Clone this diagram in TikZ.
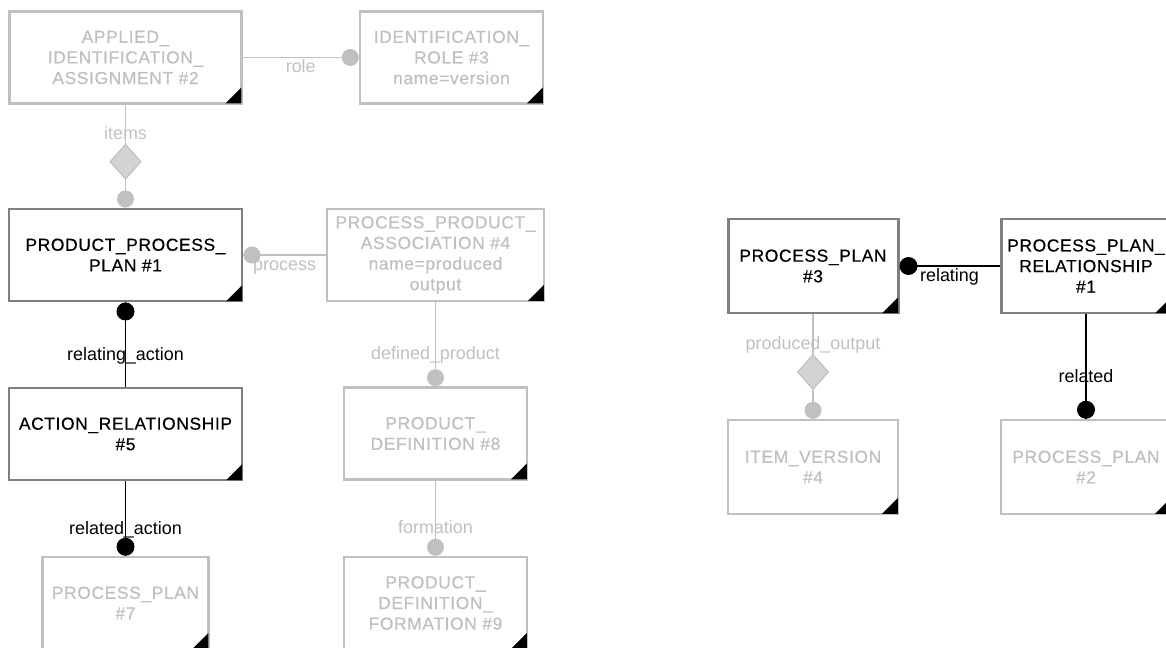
\documentclass[tikz,border=0pt]{standalone}
\usepackage{fontspec}
\setmainfont{Liberation Sans}
\newfontfamily\boxfont[LetterSpace=3.5,FakeBold=0.5]{Liberation Sans}
\usetikzlibrary{shapes.geometric,calc}
\definecolor{lg}{HTML}{C0C0C0}
\definecolor{dg}{HTML}{808080}
\definecolor{df}{HTML}{D3D3D3}
\tikzset{
  ent/.style={rectangle, inner sep=0pt, align=center, fill=white,
    font=\boxfont\fontsize{17.5}{20.7}\selectfont},
  lent/.style={ent, draw=lg, line width=2.5pt, text=lg},
  dent/.style={ent, draw=dg, line width=3pt, text=black},
  lbl/.style={inner sep=0pt, anchor=base, font=\fontsize{18}{20}\selectfont},
  glbl/.style={lbl, text=lg},
  blbl/.style={lbl, text=black},
  gline/.style={draw=lg, line width=1.6pt},
  bline/.style={draw=black, line width=1.6pt},
  gdot/.style={circle, fill=lg, inner sep=0pt, minimum size=17bp},
  bdot/.style={circle, fill=black, inner sep=0pt, minimum size=18bp},
  agg/.style={diamond, draw=lg, fill=df, line width=1.2pt, inner sep=0pt,
    minimum width=31bp, minimum height=35bp},
}
\newcommand\cornermark[1]{\fill ([xshift=-1.3pt,yshift=1.3pt]#1.south east) -- ++(-16,0) -- ++(16,-16) -- cycle;}
\begin{document}
\begin{tikzpicture}[x=1bp,y=-1bp]
\useasboundingbox (0,0) rectangle (1166,648);

% ---- entity boxes ----
\node[lent, minimum width=232bp, minimum height=92bp] (aia) at (125.5,57.5)
  {APPLIED\_\\IDENTIFICATION\_\\ASSIGNMENT \#2};
\node[lent, minimum width=183bp, minimum height=92bp] (idr) at (451.5,57.5)
  {IDENTIFICATION\_\\ROLE \#3\\name=version};
\node[dent, minimum width=233bp, minimum height=92bp] (ppp) at (125.5,255)
  {PRODUCT\_PROCESS\_\\PLAN \#1};
\node[lent, minimum width=217bp, minimum height=92bp] (ppa) at (435.5,255)
  {PROCESS\_PRODUCT\_\\ASSOCIATION \#4\\name=produced\\output};
\node[dent, minimum width=233bp, minimum height=92bp] (ar) at (125.5,434)
  {ACTION\_RELATIONSHIP\\\#5};
\node[lent, minimum width=183bp, minimum height=92bp] (pd) at (435.5,433.5)
  {PRODUCT\_\\DEFINITION \#8};
\node[lent, minimum width=166bp, minimum height=92bp] (pp7) at (125.5,603)
  {PROCESS\_PLAN\\\#7};
\node[lent, minimum width=183bp, minimum height=92bp] (pdf) at (435.5,603)
  {PRODUCT\_\\DEFINITION\_\\FORMATION \#9};
\node[dent, minimum width=170bp, minimum height=94bp] (pp3) at (813,266)
  {PROCESS\_PLAN\\\#3};
\node[dent, minimum width=170bp, minimum height=94bp] (ppr) at (1086,266)
  {PROCESS\_PLAN\_\\RELATIONSHIP\\\#1};
\node[lent, minimum width=170bp, minimum height=94bp] (iv) at (813,467)
  {ITEM\_VERSION\\\#4};
\node[lent, minimum width=170bp, minimum height=94bp] (pp2) at (1086,467)
  {PROCESS\_PLAN\\\#2};

\foreach \n in {aia,idr,ppp,ppa,ar,pd,pp7,pdf,pp3,ppr,iv,pp2}{\cornermark{\n}}

% ---- diamonds ----
\node[agg] (g1) at (125.5,161.7) {};
\node[agg] (g2) at (813,372) {};

% ---- lines ----
\draw[gline] (aia.east) -- (idr.west);
\draw[gline] (aia.south) -- (g1.north);
\draw[gline] (g1.south) -- (ppp.north);
\draw[gline] (ppa.west) -- (ppp.east);
\draw[bline] (ppp.south) -- (ar.north);
\draw[bline] (ar.south) -- (pp7.north);
\draw[gline] (ppa.south) -- (pd.north);
\draw[gline] (pd.south) -- (pdf.north);
\draw[bline] (ppr.west) -- (pp3.east);
\draw[gline] (pp3.south) -- (g2.north);
\draw[gline] (g2.south) -- (iv.north);
\draw[bline] (ppr.south) -- (pp2.north);

% ---- end dots ----
\node[gdot] (c1) at ($(idr.west)+(-8.5,0)$) {};
\node[gdot] (c2) at ($(ppp.north)+(0,-8.5)$) {};
\node[gdot] (c3) at ($(ppp.east)+(8.5,0)$) {};
\node[bdot] (c4) at ($(ppp.south)+(0,9)$) {};
\node[bdot] (c5) at ($(pp7.north)+(0,-9)$) {};
\node[gdot] (c6) at ($(pd.north)+(0,-8.5)$) {};
\node[gdot] (c7) at ($(pdf.north)+(0,-8.5)$) {};
\node[bdot] (c8) at ($(pp3.east)+(9,0)$) {};
\node[gdot] (c9) at ($(iv.north)+(0,-8.5)$) {};
\node[bdot] (c10) at ($(pp2.north)+(0,-9)$) {};

% ---- labels ----
\node[glbl] (t1) at ($(aia.east)!0.5!(idr.west)+(0,15.5)$) {role};
\node[glbl] (t2) at ($(aia.south)!0.5!(g1.north)+(0,15.5)$) {items};
\node[glbl] (t3) at ($(ppp.east)!0.5!(ppa.west)+(0,15.5)$) {process};
\node[blbl] (t4) at ($(ppp.south)!0.5!(ar.north)+(0,15.5)$) {relating\_action};
\node[blbl] (t5) at ($(ar.south)!0.5!(pp7.north)+(0,15.5)$) {related\_action};
\node[glbl] (t6) at ($(ppa.south)!0.5!(pd.north)+(0,15.5)$) {defined\_product};
\node[glbl] (t7) at ($(pd.south)!0.5!(pdf.north)+(0,15.5)$) {formation};
\node[blbl] (t8) at ($(pp3.east)!0.5!(ppr.west)+(0,15.5)$) {relating};
\node[glbl] (t9) at ($(pp3.south)!0.5!(g2.north)+(0,15.5)$) {produced\_output};
\node[blbl] (t10) at ($(ppr.south)!0.5!(pp2.north)+(0,15.5)$) {related};
\end{tikzpicture}
\end{document}
